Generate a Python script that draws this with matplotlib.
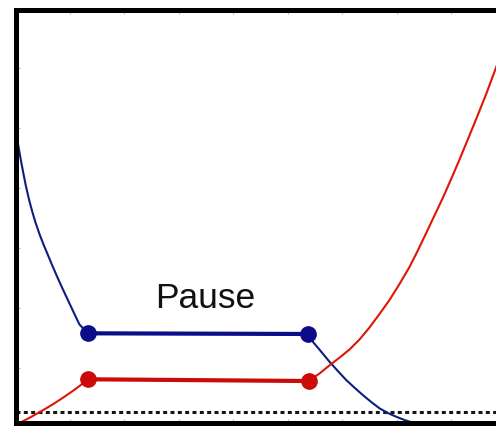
import matplotlib.pyplot as plt

# Blue trace: decay before the pause, hold during it, decay resumes after
blue_before_t = [0.0, 0.037, 0.073, 0.110, 0.147, 0.183, 0.220, 0.257, 0.312,
                 0.367, 0.440, 0.514, 0.587, 0.679, 0.771, 0.862, 0.991, 1.138,
                 1.174, 1.327]
blue_before_v = [4.975, 4.783, 4.592, 4.408, 4.233, 4.067, 3.917, 3.775, 3.592,
                 3.425, 3.233, 3.058, 2.900, 2.700, 2.508, 2.325, 2.075, 1.792,
                 1.725, 1.578]
blue_after_t = [5.376, 5.455, 5.609, 5.761, 5.914, 6.068, 6.220, 6.372, 6.527,
                6.679, 6.831, 6.985, 7.138, 7.290, 7.596]
blue_after_v = [1.567, 1.438, 1.272, 1.105, 0.950, 0.800, 0.672, 0.550, 0.433,
                0.328, 0.250, 0.188, 0.133, 0.088, 0.033]

# Red trace: rise before the pause, hold, then rise again
red_before_t = [0.037, 0.147, 0.257, 0.349, 0.440, 0.532, 0.624, 0.716, 0.807,
                0.899, 0.991, 1.083, 1.174, 1.248, 1.327]
red_before_v = [0.067, 0.117, 0.170, 0.217, 0.263, 0.312, 0.362, 0.413, 0.467,
                0.522, 0.580, 0.638, 0.700, 0.753, 0.812]
red_after_t = [5.382, 5.578, 5.793, 5.945, 6.128, 6.312, 6.495, 6.679, 6.862,
               7.046, 7.229, 7.382, 7.536, 7.688, 7.840, 7.994, 8.147, 8.299,
               8.453, 8.637, 8.807, 8.991]
red_after_v = [0.783, 0.908, 1.067, 1.172, 1.308, 1.475, 1.675, 1.900, 2.133,
               2.400, 2.683, 2.958, 3.250, 3.542, 3.833, 4.150, 4.475, 4.808,
               5.150, 5.567, 5.983, 6.433]

threshold = 0.275
pause_label = 'Pause'

fig = plt.figure(figsize=(4.96, 4.26), dpi=100)
ax = fig.add_axes([15.5 / 496, 3 / 426, 490.5 / 496, 413 / 426])

ax.axhline(threshold, color='#151515', lw=2.2, dashes=(1.3, 1.1), zorder=1)

blue_curve = '#0c1f80'
red_curve = '#e01505'
ax.plot(blue_before_t, blue_before_v, color=blue_curve, lw=1.5, zorder=2)
ax.plot(blue_after_t, blue_after_v, color=blue_curve, lw=1.5, zorder=2)
ax.plot(red_before_t, red_before_v, color=red_curve, lw=1.5, zorder=2)
ax.plot(red_after_t, red_after_v, color=red_curve, lw=1.5, zorder=2)

# pause segments joining the end of the first part to the start of the second
ax.plot([blue_before_t[-1], blue_after_t[0]], [blue_before_v[-1], blue_after_v[0]],
        color='#0c0c8a', lw=3, marker='o', ms=11, zorder=3)
ax.plot([red_before_t[-1], red_after_t[0]], [red_before_v[-1], red_after_v[0]],
        color='#cc0a0a', lw=3, marker='o', ms=11, zorder=3)

ax.text(3.486, 2.0, pause_label, ha='center', va='baseline', fontsize=25.5,
        family='Liberation Sans', color='#111111')

ax.set_xlim(0, 9)
ax.set_ylim(5 / 60, 418 / 60)
ax.set_xticks(range(1, 9))
ax.set_yticks(range(1, 7))
ax.tick_params(direction='in', length=3, width=0.8, color='#bbbbbb',
               labelleft=False, labelbottom=False, top=True, right=False)
for side in ['left', 'top', 'bottom']:
    ax.spines[side].set_linewidth(3.6)
    ax.spines[side].set_color('black')
ax.spines['right'].set_visible(False)

fig.savefig('out.png', dpi=100)
